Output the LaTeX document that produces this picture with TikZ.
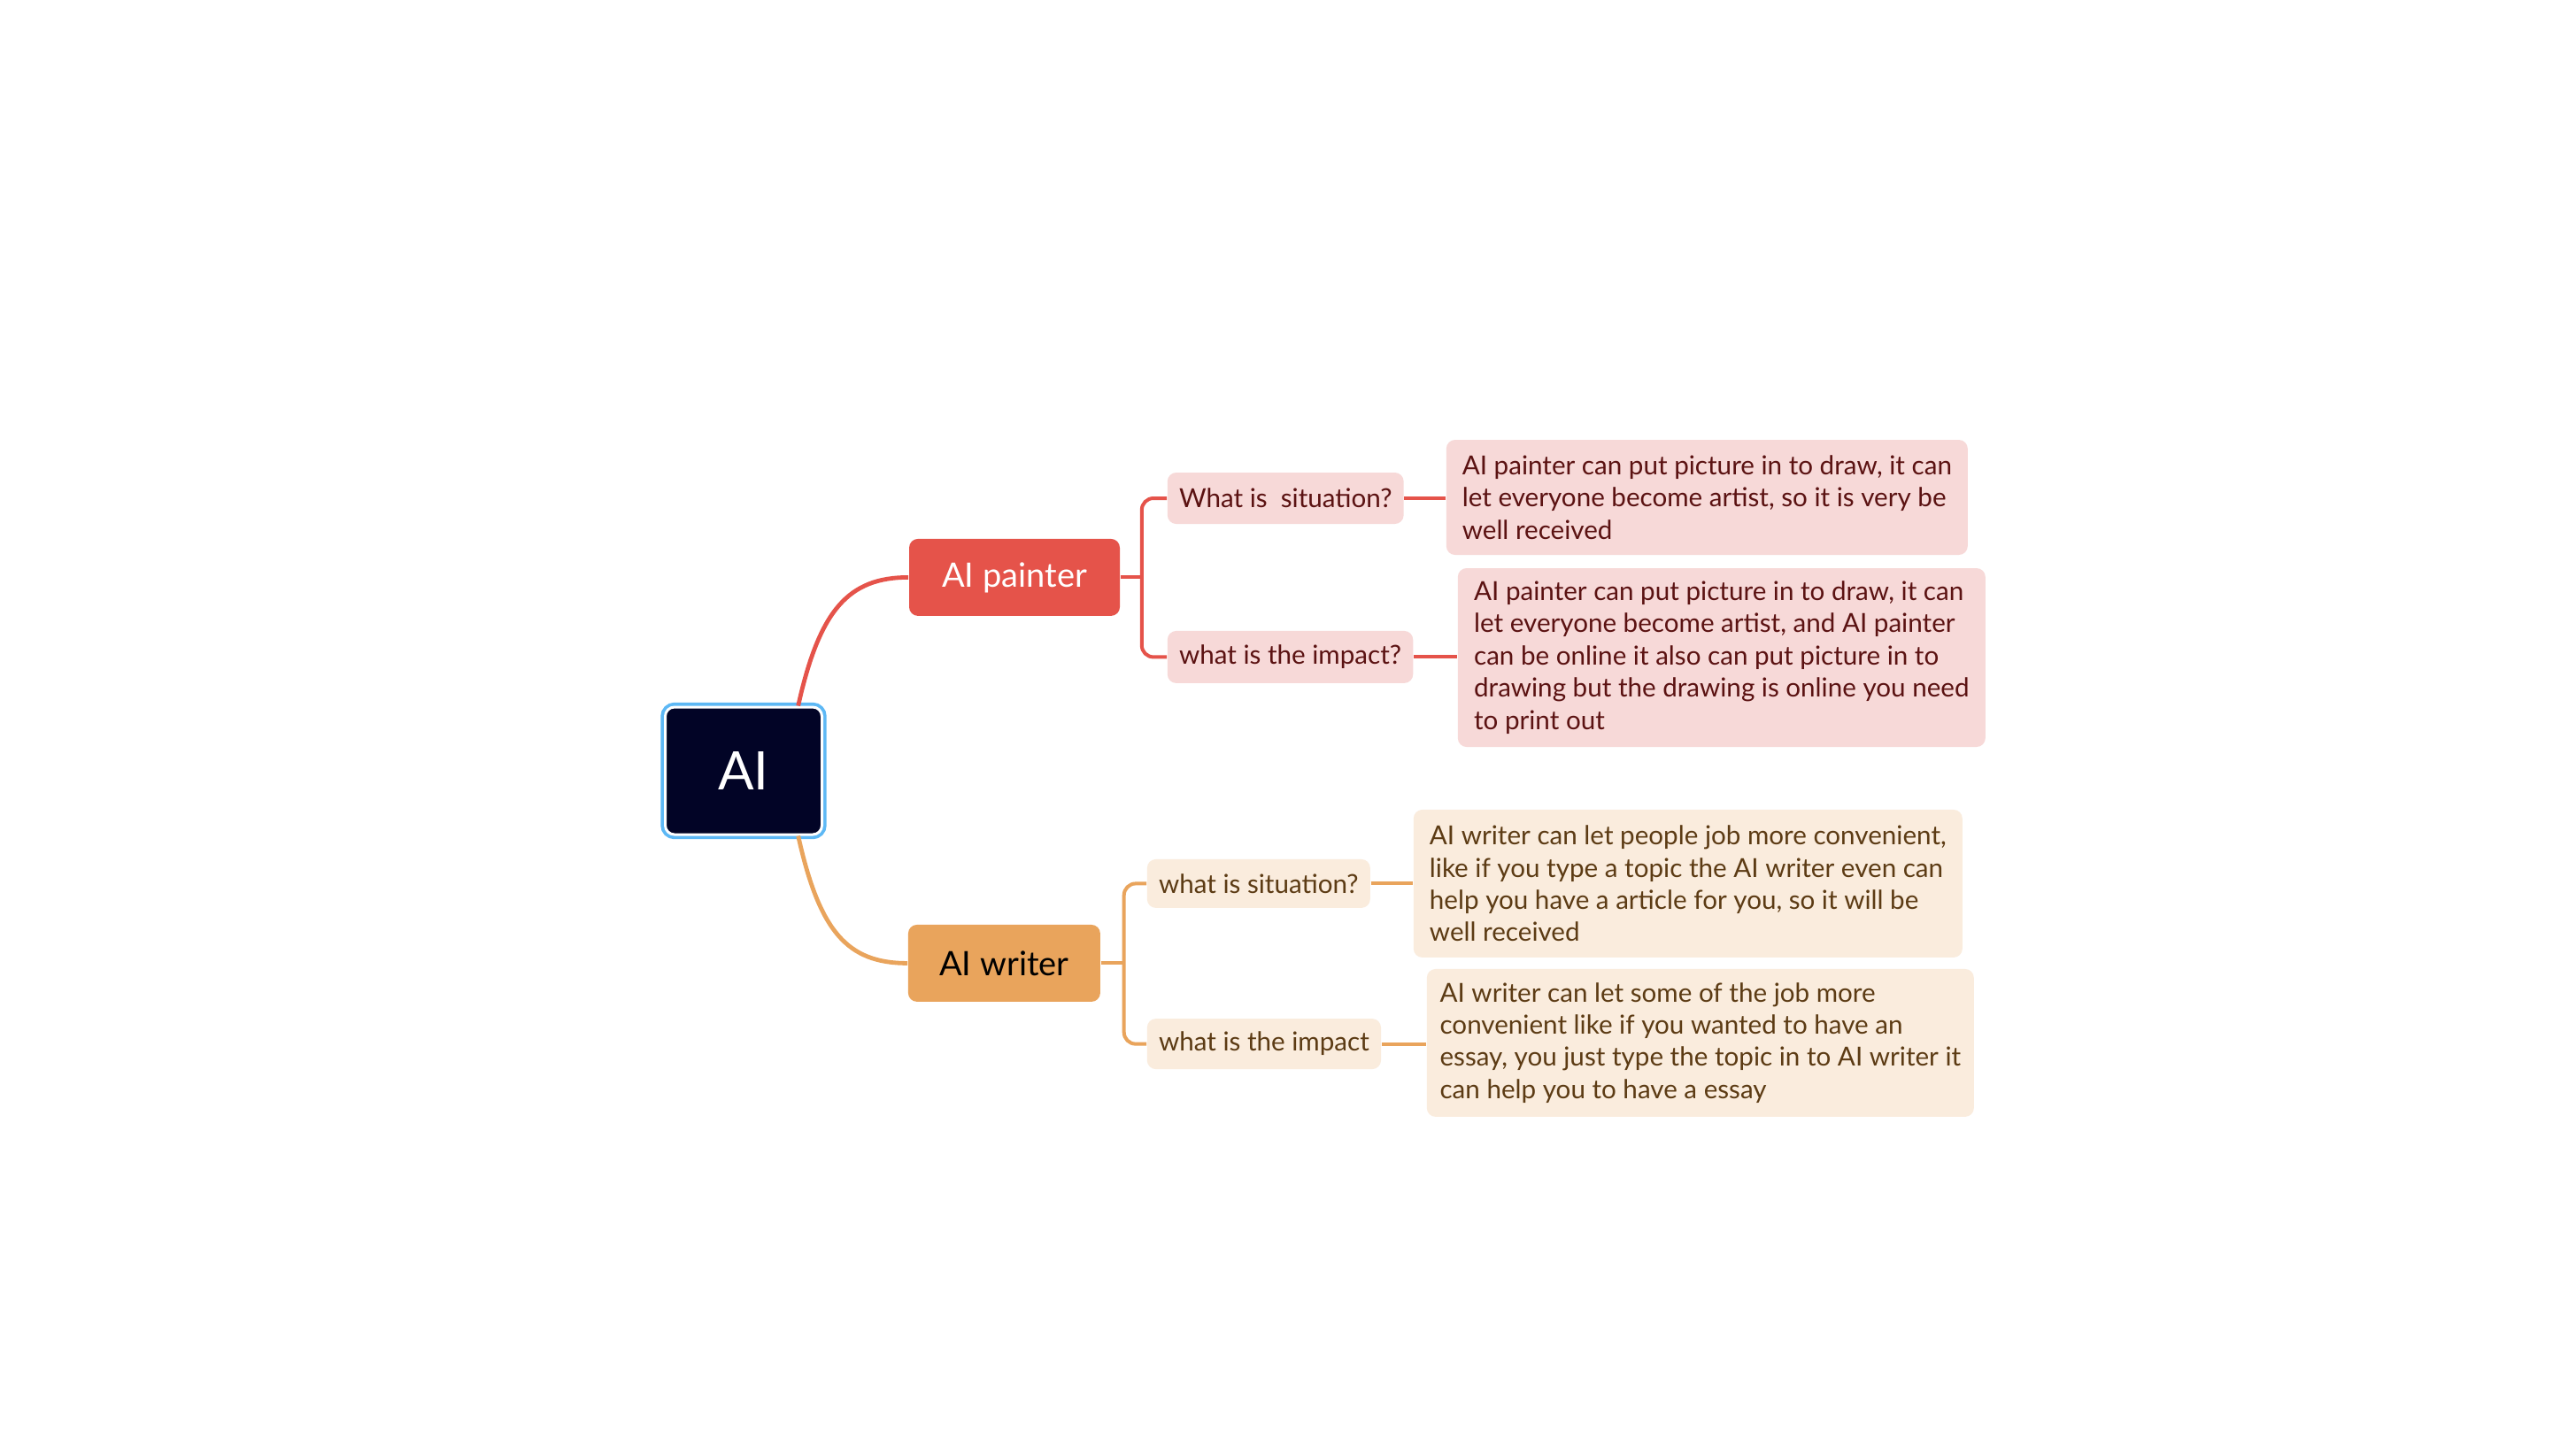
\documentclass[tikz,border=0pt]{standalone}
\usepackage{fontspec}
\setmainfont{Lato}
\usepackage{tikz}

\definecolor{rootdark}{HTML}{020426}
\definecolor{rootblue}{HTML}{5DB8F5}
\definecolor{painterred}{HTML}{E5534A}
\definecolor{painterlight}{HTML}{F7D9D8}
\definecolor{paintertext}{HTML}{5B1212}
\definecolor{writerorange}{HTML}{E9A45C}
\definecolor{writerlight}{HTML}{FAECDD}
\definecolor{writertext}{HTML}{5C3B14}

\begin{document}
\begin{tikzpicture}[
        x=1pt, y=1pt,
        root/.style={rectangle, rounded corners=2.6pt, fill=rootdark, draw=white, line width=0.75pt,
                     preaction={draw=rootblue, line width=2.6pt},
                     minimum width=44.25pt, minimum height=36pt, text=white,
                     font=\fontsize{15}{18}\selectfont},
        branch/.style={rectangle, rounded corners=2.5pt, minimum height=21.75pt, inner xsep=0pt,
                       font=\fontsize{9.5}{11}\selectfont},
        question/.style={rectangle, rounded corners=2.5pt, anchor=west, inner xsep=3.3pt,
                         font=\fontsize{7.4}{9}\selectfont},
        detail/.style={rectangle, rounded corners=2.5pt, anchor=west, inner xsep=3.3pt, inner ysep=0pt,
                       align=left, font=\fontsize{7.4}{9.1}\selectfont},
        painterpart/.style={fill=painterlight, text=paintertext},
        writerpart/.style={fill=writerlight, text=writertext},
        link/.style={line width=1pt},
        curve/.style={line width=1.2pt},
    ]
        \fill[white] (0,0) rectangle (727.5,-410.5);
        \useasboundingbox (0,0) rectangle (727.5,-410.5);

        \node[root] (ai) at (210,-217.75) {AI};
        \node[branch, fill=painterred, text=white, minimum width=59.5pt] (painter) at (286.5,-163.1) {AI painter};
        \node[branch, fill=writerorange, text=black, minimum width=54.25pt] (writer) at (283.6,-272.1) {AI writer};

        % painter side
        \node[question, painterpart, minimum height=14.5pt] (psit) at (329.5,-140.75) {What is\ \ situation?};
        \node[question, painterpart, minimum height=14.75pt] (pimp) at (329.5,-185.6) {what is the impact?};
        \node[detail, painterpart, minimum width=147.25pt, minimum height=32.5pt] (psitd) at (408.25,-140.5)
            {AI painter can put picture in to draw, it can\\let everyone become artist, so it is very be\\well received};
        \node[detail, painterpart, minimum width=149pt, minimum height=50.5pt] (pimpd) at (411.5,-185.75)
            {AI painter can put picture in to draw, it can\\let everyone become artist, and AI painter\\can be online it also can put picture in to\\drawing but the drawing is online you need\\to print out};

        % writer side
        \node[question, writerpart, minimum height=13.75pt] (wsit) at (323.75,-249.6) {what is situation?};
        \node[question, writerpart, minimum height=14.25pt] (wimp) at (323.75,-294.9) {what is the impact};
        \node[detail, writerpart, minimum width=155pt, minimum height=41.75pt] (wsitd) at (399,-249.6)
            {AI writer can let people job more convenient,\\like if you type a topic the AI writer even can\\help you have a article for you, so it will be\\well received};
        \node[detail, writerpart, minimum width=154.5pt, minimum height=41.75pt] (wimpd) at (402.75,-294.6)
            {AI writer can let some of the job more\\convenient like if you wanted to have an\\essay, you just type the topic in to AI writer it\\can help you to have a essay};

        \draw[curve, painterred] (ai.50) .. controls +(6,27) and +(-17,0) .. (painter.west);
        \draw[curve, writerorange] (ai.-50) .. controls +(6,-27) and +(-17,0) .. (writer.west);

        \draw[link, painterred] (painter.east) -- ++(6,0) coordinate (pfork);
        \draw[link, painterred, rounded corners=3.3pt] (psit.west) -| (pfork) |- (pimp.west);
        \draw[link, painterred] (psit.east) -- (psitd.west |- psit.east);
        \draw[link, painterred] (pimp.east) -- (pimpd.west |- pimp.east);

        \draw[link, writerorange] (writer.east) -- ++(6.5,0) coordinate (wfork);
        \draw[link, writerorange, rounded corners=3.3pt] (wsit.west) -| (wfork) |- (wimp.west);
        \draw[link, writerorange] (wsit.east) -- (wsitd.west |- wsit.east);
        \draw[link, writerorange] (wimp.east) -- (wimpd.west |- wimp.east);
    \end{tikzpicture}
\end{document}
